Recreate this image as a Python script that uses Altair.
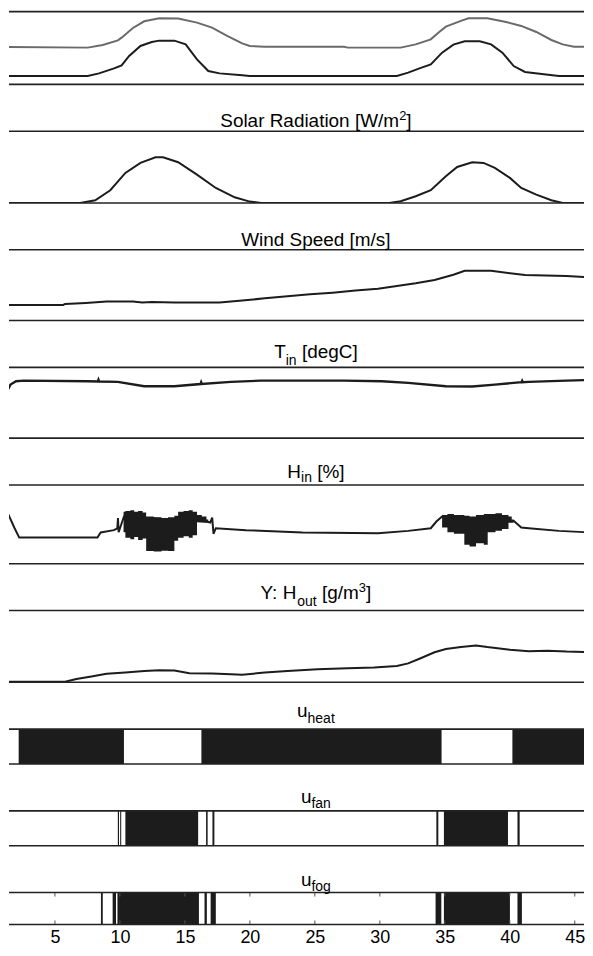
import altair as alt
import pandas as pd

FONT = "Liberation Sans"
INK = "#1c1c1c"
BOX = "#222222"
GRAY = "#6a6a6a"

X_DOMAIN = [1.465, 45.71]
PLOT_W = 577
HEIGHTS = [73, 72, 71, 71, 79, 72, 35, 35, 32]
SPACING = 47
TICKS = [5, 10, 15, 20, 25, 30, 35, 40, 45]

# ---------------- data (time in hours) ----------------
# panel 1: two outdoor curves (relative units)
p1_gray_t = [1.29, 7.52, 8.68, 9.84, 10.13, 11.0, 11.87, 13.03, 14.48, 15.93, 17.09, 18.25, 19.41,
             19.99, 21.15, 27.24, 27.53, 31.6, 32.76, 33.92, 34.5, 35.08, 36.24, 36.82, 38.27,
             39.72, 40.88, 42.04, 43.2, 44.07, 44.94, 46.33]
p1_gray_v = [51.4, 50.5, 54.1, 60.5, 64.2, 77.5, 86.7, 90.8, 90.4, 84.9, 78.0, 66.5, 56.4,
             52.8, 51.8, 51.8, 50.5, 50.5, 55.0, 61.9, 71.1, 79.4, 87.2, 90.8, 90.8,
             85.8, 80.3, 72.0, 61.0, 55.0, 51.8, 51.4]
p1_black_t = [1.29, 7.52, 8.39, 9.55, 10.13, 10.71, 11.58, 12.45, 13.03, 14.19, 15.06, 15.93, 16.8,
              17.67, 19.41, 19.99, 31.31, 32.18, 33.05, 33.92, 34.79, 35.66, 36.53, 37.69, 38.56,
              39.43, 40.3, 41.17, 42.62, 43.78, 46.33]
p1_black_v = [11.5, 11.5, 15.1, 22.0, 26.1, 39.0, 52.8, 58.3, 60.1, 60.1, 55.0, 34.4, 18.3,
              15.1, 12.4, 11.5, 11.5, 16.1, 22.0, 27.5, 43.6, 54.6, 59.2, 59.2, 55.0,
              43.6, 25.2, 17.0, 13.8, 11.5, 11.5]

# Solar radiation [W/m2]
solar_t = [1.29, 6.94, 8.1, 9.26, 10.42, 11.58, 12.74, 13.32, 14.48, 15.93, 17.38, 18.83, 19.99,
           20.86, 30.73, 31.6, 32.76, 33.92, 35.08, 35.95, 37.11, 37.98, 38.85, 40.01, 40.88,
           42.04, 43.2, 44.07, 46.33]
solar_v = [0, 0, 37, 177, 419, 558, 637, 637, 567, 395, 209, 79, 19,
           0, 0, 23, 93, 177, 372, 502, 567, 558, 488, 349, 209,
           116, 37, 0, 0]

# Wind speed [m/s]
wind_t = [1.29, 5.64, 5.78, 7.38, 8.97, 11.0, 11.73, 12.45, 14.19, 17.67, 19.41, 21.15, 22.89,
          24.63, 26.37, 28.12, 29.86, 31.31, 32.76, 34.21, 35.66, 36.53, 38.56, 41.17, 44.36, 46.33]
wind_v = [2.21, 2.21, 2.35, 2.49, 2.68, 2.68, 2.54, 2.63, 2.54, 2.54, 2.82, 3.15, 3.43,
          3.71, 3.94, 4.23, 4.51, 4.88, 5.26, 5.73, 6.48, 7.04, 7.04, 6.43, 6.29, 6.10]

# T_in [degC]
tin_t = [1.29, 1.58, 2.01, 2.6, 7.52, 8.3, 8.35, 8.4, 9.84, 11.87, 14.19, 16.2, 16.25, 16.3, 18.54,
         20.86, 27.24, 30.15, 32.18, 35.08, 37.11, 38.85, 40.9, 40.95, 41.0, 41.46, 44.36, 46.33]
tin_v = [23.08, 25.14, 26.07, 26.26, 26.07, 26.0, 26.5, 26.0, 25.89, 24.67, 24.67, 25.3, 25.8, 25.3, 25.89,
         26.26, 26.26, 26.07, 25.61, 24.67, 24.58, 25.14, 25.8, 26.2, 25.8, 25.89, 26.26, 26.45]

# H_in [%]: slow part and fast-oscillation envelopes
hin_t = [1.29, 1.87, 2.25, 8.27, 8.52, 9.54, 9.8, 9.85, 9.9, 10.31, 16.8, 16.95, 17.1, 17.2, 17.38,
         19.7, 24.05, 29.86, 32.18, 33.92, 34.35, 34.79, 40.15, 40.3, 40.88, 41.46, 43.78, 46.33]
hin_v = [67.2, 46.0, 33.2, 33.2, 39.6, 42.6, 45.0, 58.0, 40.0, 60.0, 53.0, 52.3, 58.7, 38.0, 45.1,
         42.6, 39.6, 38.7, 41.7, 45.1, 53.6, 60.0, 54.0, 54.5, 46.0, 45.1, 41.7, 39.6]
hin_band_t = [10.28, 10.42, 10.8, 11.1, 11.4, 11.75, 12.02, 12.6, 13.2, 13.7, 14.19, 14.48, 14.9,
              15.3, 15.6, 15.93, 16.3, 16.66, 16.8,
              34.79, 35.2, 35.7, 36.5, 36.9, 37.4, 38.0, 38.3, 38.9, 39.4, 39.9, 40.15, 40.3]
hin_band_lo = [40, 33, 31, 34, 30, 32, 16.2, 15.5, 16.5, 16, 29, 33, 35,
               33, 36, 53, 54, 54, 54,
               46, 40, 38, 24, 22, 26, 24, 40, 42, 44, 52, 52, 52]
hin_band_hi = [66, 67, 68, 66, 67, 65, 60, 59, 58, 59, 61, 66, 67,
               68, 66, 62, 60, 56, 56,
               62, 63, 62, 61, 60, 62, 63, 63, 64, 62, 60, 56, 56]
hin_band_id = [1] * 19 + [2] * 13

# Y: H_out [g/m3]
hout_t = [1.29, 5.78, 6.65, 7.81, 8.97, 10.42, 11.87, 13.03, 14.19, 15.35, 17.09, 18.54, 19.41,
          21.15, 22.89, 25.21, 27.53, 29.56, 31.31, 32.18, 33.05, 34.21, 35.08, 36.24, 37.4,
          38.27, 40.01, 41.46, 42.91, 44.36, 46.33]
hout_v = [0.18, 0.18, 0.91, 1.64, 2.36, 2.73, 3.18, 3.36, 3.27, 2.55, 2.45, 2.27, 2.09,
          2.73, 3.18, 3.64, 3.91, 4.09, 4.55, 5.27, 6.55, 8.36, 9.27, 9.82, 10.27,
          9.82, 9.09, 8.64, 8.82, 8.55, 8.36]

# on/off control signals (intervals where the signal switches rapidly / is on)
heat_on = [2.21, 16.27, 40.2]
heat_off = [10.31, 34.75, 46.5]
fan_on = [9.84, 10.02, 10.42, 16.63, 17.12, 34.35, 34.93, 40.59]
fan_off = [9.93, 10.10, 16.02, 16.75, 17.27, 34.50, 39.86, 40.76]
fog_on = [8.54, 9.44, 9.81, 16.51, 16.98, 34.29, 34.93, 40.59]
fog_off = [8.68, 9.70, 16.08, 16.69, 17.38, 34.73, 40.01, 40.93]

# ---------------- text helpers ----------------
AW = {" ": 278, "%": 889, "/": 278, "2": 556, "3": 556, ":": 278, "C": 722, "H": 722, "R": 722,
      "S": 667, "T": 611, "W": 944, "Y": 667, "[": 278, "]": 278, "a": 556, "d": 556, "e": 556,
      "f": 278, "g": 556, "h": 556, "i": 222, "l": 222, "m": 833, "n": 556, "o": 556, "p": 556,
      "r": 333, "s": 500, "t": 278, "u": 556}
FS = {"main": 19, "sub": 14, "sup": 13}
TITLE_CX = 308


def tw(s, fs):
    return sum(AW.get(c, 556) for c in s) / 1000.0 * fs


ONE = pd.DataFrame({"k": [0]})


def title_layers(parts, offs):
    total = sum(tw(t, FS[r]) for t, r in parts)
    x = TITLE_CX - total / 2.0
    out = []
    for t, r in parts:
        lead = len(t) - len(t.lstrip(" "))
        shown = t.strip(" ")
        xs = x + tw(" " * lead, FS[r])
        out.append(
            alt.Chart(ONE).mark_text(text=shown, align="left", baseline="alphabetic", fontSize=FS[r],
                                     font=FONT, color="black")
            .encode(x=alt.value(xs), y=alt.value(-offs[r]))
        )
        x += tw(t, FS[r])
    return out


AX_LAST = alt.Axis(values=TICKS, ticks=False, domain=False, grid=False, labelFontSize=18,
                   labelFont=FONT, labelColor="black", labelPadding=4, format="d", title=None,
                   labelFlush=False, labelOverlap=False)


def xenc(field, last=False):
    return alt.X(f"{field}:Q", scale=alt.Scale(domain=X_DOMAIN, nice=False, zero=False),
                 axis=AX_LAST if last else None)


def box(h):
    return [
        alt.Chart(ONE).mark_rule(color=BOX, strokeWidth=1.6)
        .encode(x=alt.value(0), x2=alt.value(PLOT_W), y=alt.value(0)),
        alt.Chart(ONE).mark_rule(color=BOX, strokeWidth=1.6)
        .encode(x=alt.value(0), x2=alt.value(PLOT_W), y=alt.value(h)),
    ]


def line(t, v, dom, color=INK, width=2.0):
    df = pd.DataFrame({"t": t, "v": v})
    return alt.Chart(df).mark_line(color=color, strokeWidth=width, clip=True).encode(
        x=xenc("t"), y=alt.Y("v:Q", scale=alt.Scale(domain=dom, nice=False, zero=False), axis=None))


def blocks(on, off, h, last=False):
    df = pd.DataFrame({"a": on, "b": off})
    return alt.Chart(df).mark_rect(color=INK, clip=True).encode(
        x=xenc("a", last), x2=alt.X2("b:Q"), y=alt.value(0), y2=alt.value(h))


def panel(h, layers, title=None, offs=None):
    ls = list(layers) + box(h)
    if title:
        ls += title_layers(title, offs)
    return alt.layer(*ls).properties(width=PLOT_W, height=h)


H = HEIGHTS

p1 = panel(H[0], [line(p1_gray_t, p1_gray_v, [0, 100], GRAY), line(p1_black_t, p1_black_v, [0, 100])])

p2 = panel(H[1], [line(solar_t, solar_v, [0, 1000])],
           [("Solar Radiation [W/m", "main"), ("2", "sup"), ("]", "main")],
           {"main": 4, "sup": 11})

p3 = panel(H[2], [line(wind_t, wind_v, [0, 10])],
           [("Wind Speed [m/s]", "main")], {"main": 4})

p4 = panel(H[3], [line(tin_t, tin_v, [10, 30], width=2.4)],
           [("T", "main"), ("in", "sub"), (" [degC]", "main")], {"main": 9, "sub": 2})

band_df = pd.DataFrame({"t": hin_band_t, "lo": hin_band_lo, "hi": hin_band_hi, "g": hin_band_id})
hin_band = alt.Chart(band_df).mark_area(color=INK, clip=True, interpolate="step-after").encode(
    x=xenc("t"),
    y=alt.Y("lo:Q", scale=alt.Scale(domain=[0, 100], nice=False, zero=False), axis=None),
    y2="hi:Q", detail="g:N")
p5 = panel(H[4], [hin_band, line(hin_t, hin_v, [0, 100])],
           [("H", "main"), ("in", "sub"), (" [%]", "main")], {"main": 7, "sub": 3})

p6 = panel(H[5], [line(hout_t, hout_v, [0, 20])],
           [("Y: H", "main"), ("out", "sub"), (" [g/m", "main"), ("3", "sup"), ("]", "main")],
           {"main": 12, "sub": 5, "sup": 19})

p7 = panel(H[6], [blocks(heat_on, heat_off, H[6])],
           [("u", "main"), ("heat", "sub")], {"main": 12, "sub": 6})

p8 = panel(H[7], [blocks(fan_on, fan_off, H[7])],
           [("u", "main"), ("fan", "sub")], {"main": 8, "sub": 3})

tick_df = pd.DataFrame({"t": TICKS})
ticks_top = alt.Chart(tick_df).mark_rule(color="#555555", strokeWidth=1).encode(
    x=xenc("t", True), y=alt.value(0), y2=alt.value(4))
ticks_bot = alt.Chart(tick_df).mark_rule(color="#555555", strokeWidth=1).encode(
    x=xenc("t", True), y=alt.value(H[8] - 4), y2=alt.value(H[8]))
p9 = panel(H[8], [blocks(fog_on, fog_off, H[8], True), ticks_top, ticks_bot],
           [("u", "main"), ("fog", "sub")], {"main": 7, "sub": 2})

chart = alt.vconcat(p1, p2, p3, p4, p5, p6, p7, p8, p9, spacing=SPACING, bounds="flush").resolve_scale(
    x="independent", y="independent"
).properties(
    padding={"left": 0, "top": 1, "right": 0, "bottom": 0}
).configure_view(stroke=None)

chart.save("out.html", embed_options={"renderer": "svg", "actions": False})
